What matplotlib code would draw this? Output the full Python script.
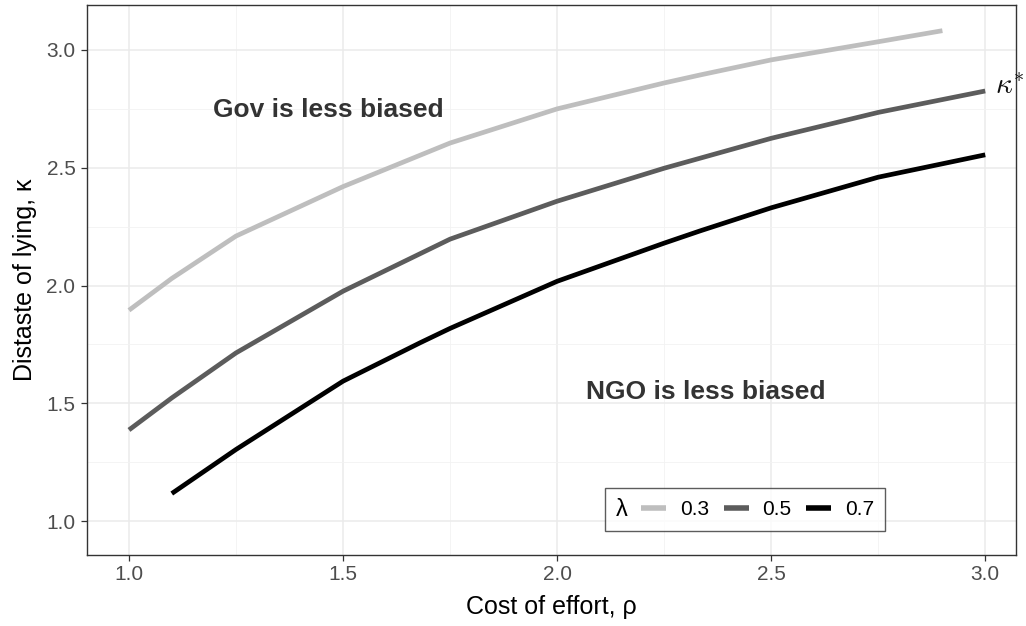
import matplotlib
matplotlib.use("Agg")
import matplotlib.pyplot as plt
from matplotlib.offsetbox import HPacker
from matplotlib.ticker import MultipleLocator, FormatStrFormatter

plt.rcParams["font.family"] = ["Liberation Sans", "DejaVu Sans"]
plt.rcParams["mathtext.fontset"] = "cm"

# kappa* threshold curves, one per lambda
LAMBDAS = ["0.3", "0.5", "0.7"]
rho_03 = [1.0, 1.1, 1.25, 1.5, 1.75, 2.0, 2.25, 2.334, 2.5, 2.75, 2.9]
kap_03 = [1.895, 2.03, 2.21, 2.42, 2.605, 2.75, 2.86, 2.894, 2.958, 3.035, 3.082]
rho_05 = [1.0, 1.1, 1.25, 1.5, 1.75, 2.0, 2.25, 2.5, 2.75, 3.0]
kap_05 = [1.387, 1.523, 1.714, 1.976, 2.197, 2.358, 2.498, 2.625, 2.735, 2.826]
rho_07 = [1.1, 1.25, 1.5, 1.68, 1.75, 2.0, 2.25, 2.334, 2.5, 2.75, 3.0]
kap_07 = [1.117, 1.304, 1.594, 1.757, 1.818, 2.018, 2.18, 2.232, 2.33, 2.46, 2.555]

COLORS = ["#bebebe", "#5c5c5c", "#000000"]
X_TICKS = [1.0, 1.5, 2.0, 2.5, 3.0]
Y_TICKS = [1.0, 1.5, 2.0, 2.5, 3.0]

fig = plt.figure(figsize=(10.26, 6.26), dpi=100)
ax = fig.add_axes([0.0848, 0.1134, 0.9055, 0.8786])

series = [(rho_03, kap_03), (rho_05, kap_05), (rho_07, kap_07)]
for (xs, ys), lab, c in zip(series, LAMBDAS, COLORS):
    ax.plot(xs, ys, color=c, lw=3.4, label=lab, solid_capstyle="butt",
            solid_joinstyle="round", zorder=3)

ax.set_xlim(0.902, 3.072)
ax.set_ylim(0.856, 3.191)
ax.set_xticks(X_TICKS)
ax.set_yticks(Y_TICKS)
ax.xaxis.set_minor_locator(MultipleLocator(0.25))
ax.yaxis.set_minor_locator(MultipleLocator(0.25))
ax.grid(which="major", color="#ebebeb", lw=1.1, zorder=0)
ax.grid(which="minor", color="#f2f2f2", lw=0.6, zorder=0)
ax.set_axisbelow(True)
ax.tick_params(which="major", direction="out", length=4.3, width=0.9, color="#333333",
               labelcolor="#4d4d4d", labelsize=15)
ax.tick_params(axis="x", which="major", pad=3)
ax.tick_params(axis="y", which="major", pad=4)
ax.tick_params(which="minor", length=0)
ax.xaxis.set_major_formatter(FormatStrFormatter("%.1f"))
ax.yaxis.set_major_formatter(FormatStrFormatter("%.1f"))
for s in ax.spines.values():
    s.set_color("#333333")
    s.set_linewidth(1.0)

ax.set_xlabel("Cost of effort, ρ", fontsize=18, labelpad=8)
ax.set_ylabel("Distaste of lying, κ", fontsize=18, labelpad=7)

ax.text(1.465, 2.745, "Gov is less biased", ha="center", va="center",
        fontsize=19, fontweight="bold", color="#333333")
ax.text(2.348, 1.548, "NGO is less biased", ha="center", va="center",
        fontsize=19, fontweight="bold", color="#333333")
ax.text(3.023, 2.85, r"$\kappa^{*}$", ha="left", va="center", fontsize=21, color="#111111")

leg = ax.legend(title="λ", ncol=3, loc="center", bbox_to_anchor=(0.708, 0.082),
                fontsize=15, title_fontsize=17, frameon=True, fancybox=False,
                handlelength=1.2, handletextpad=0.65, columnspacing=0.72,
                borderpad=0.5, borderaxespad=0)
leg.get_frame().set_edgecolor("#333333")
leg.get_frame().set_linewidth(1.0)
for h in leg.legend_handles:
    h.set_linewidth(4.0)
# put the title to the left of the keys, as ggplot does for a horizontal legend
box = leg._legend_box
box.__class__ = HPacker
box.sep = 10
box.align = "center"

fig.savefig("out.png", dpi=100)
